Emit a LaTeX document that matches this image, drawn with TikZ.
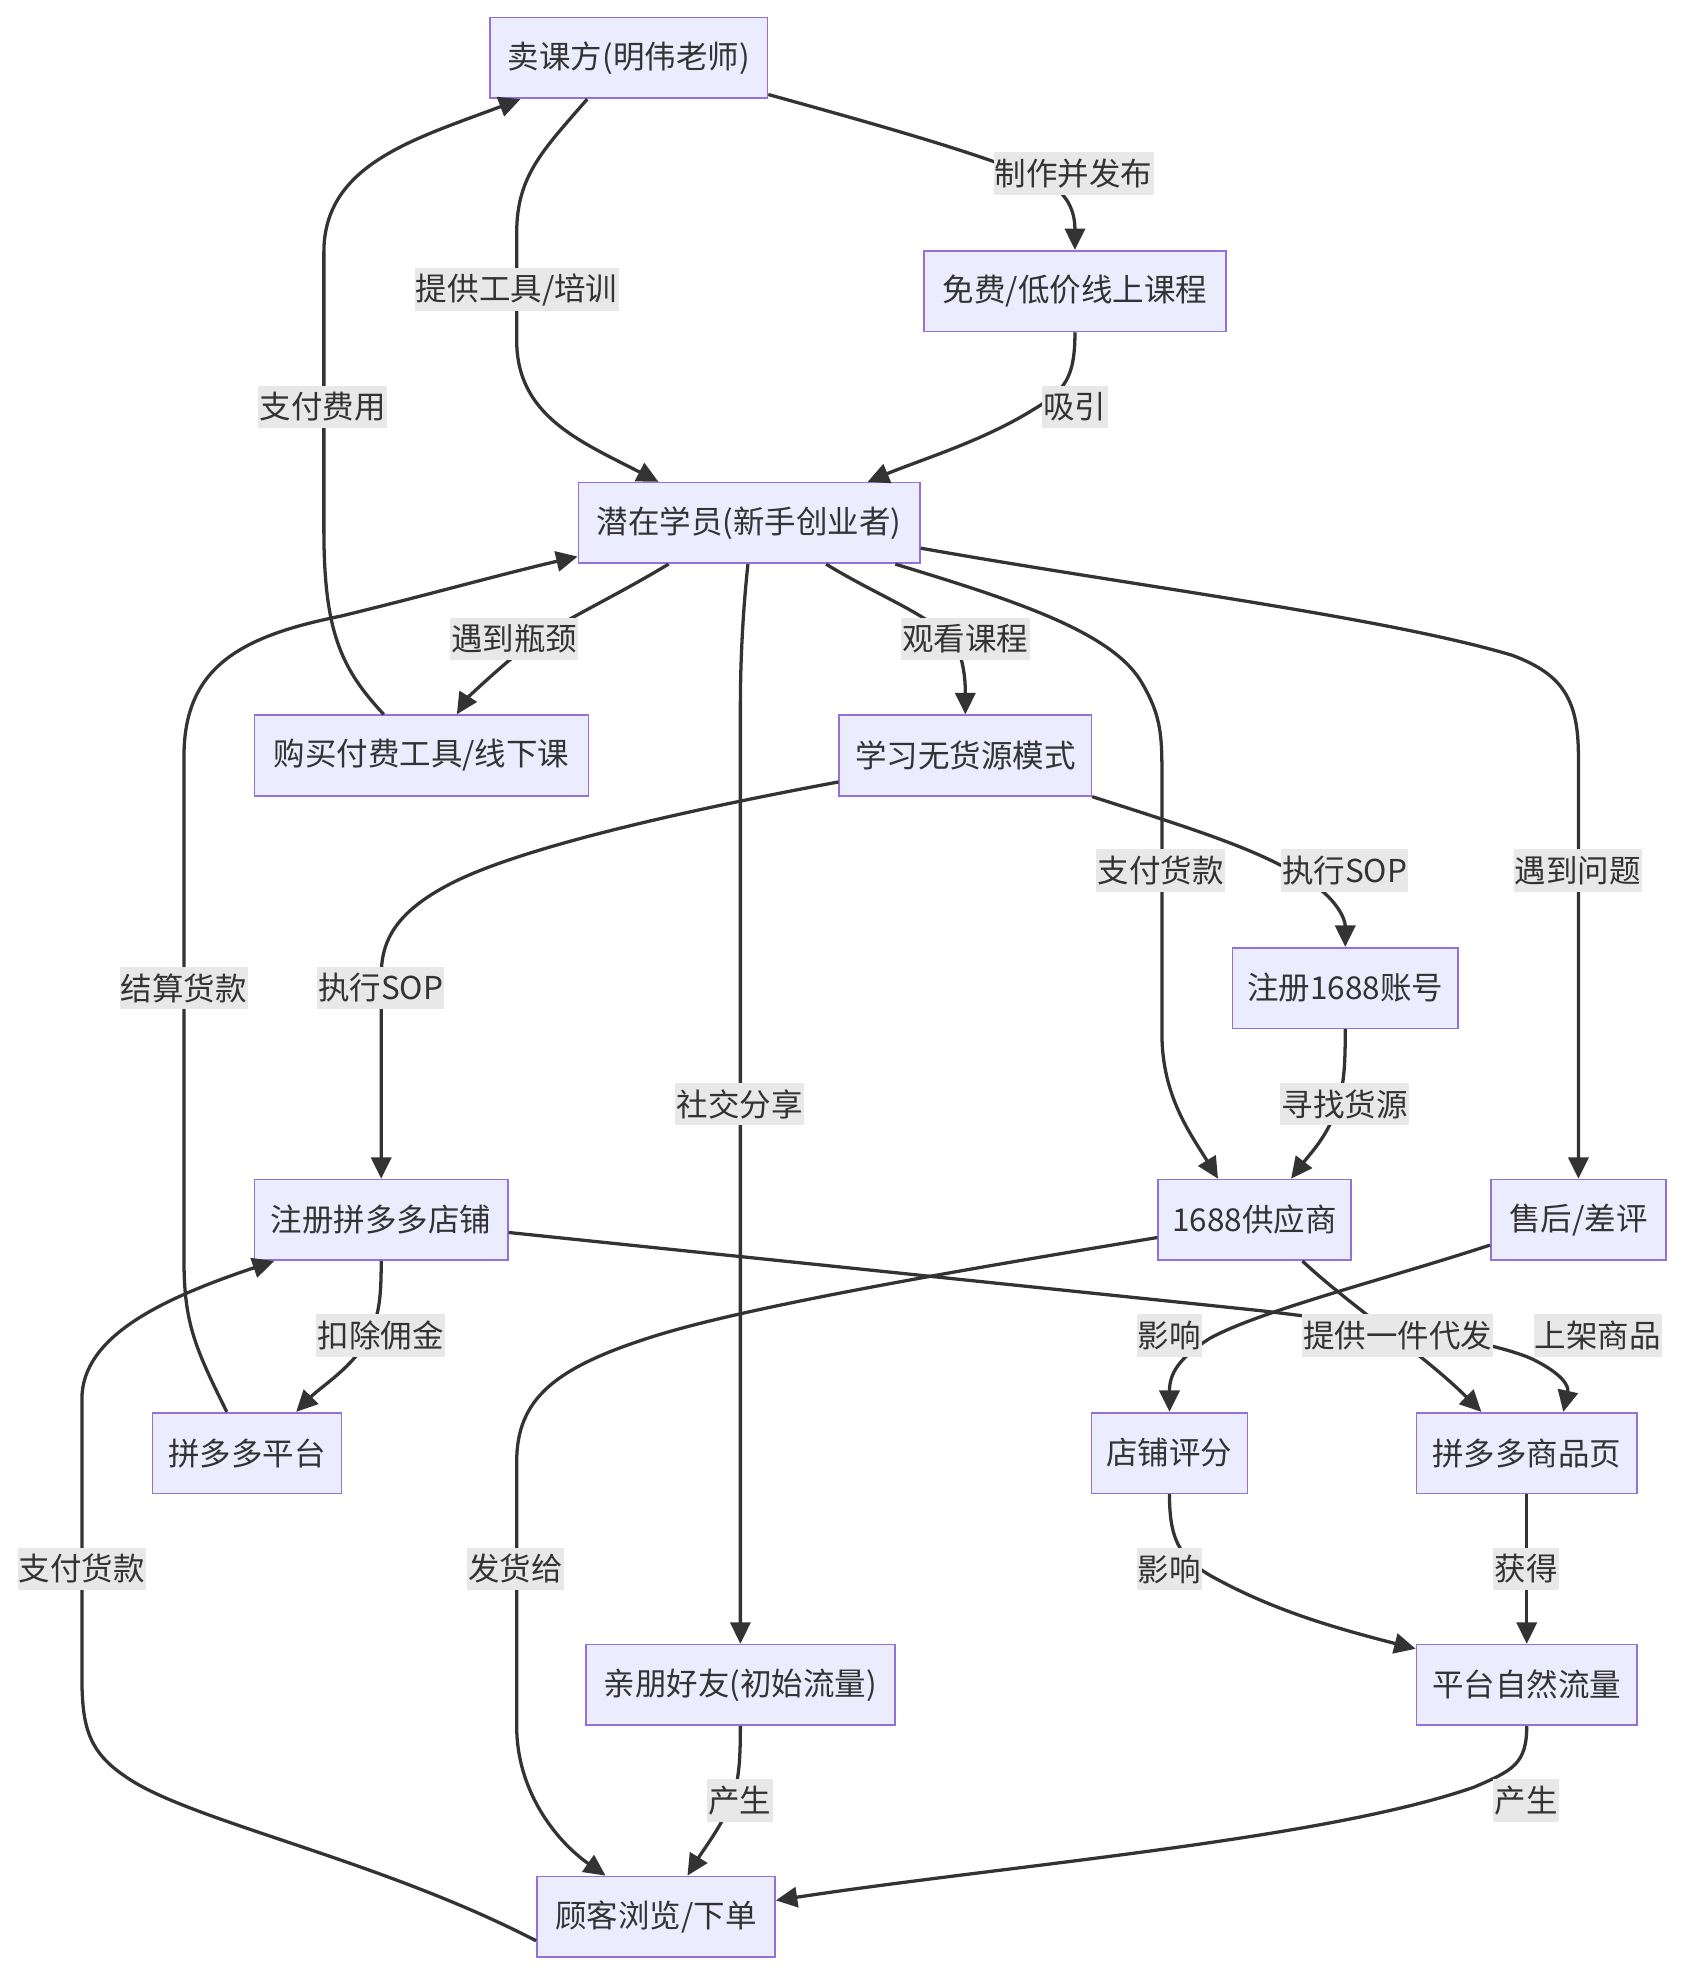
\documentclass[tikz,border=0pt]{standalone}
\usepackage{fontspec}
\setmainfont{Noto Sans CJK SC}
\usetikzlibrary{arrows.meta}
\definecolor{nodefill}{HTML}{ECECFF}
\definecolor{nodeborder}{HTML}{9370DB}
\definecolor{edgecol}{HTML}{333333}
\definecolor{lblbg}{HTML}{E8E8E8}
\tikzset{
  box/.style={draw=nodeborder, fill=nodefill, line width=1.3pt, minimum height=64pt, inner sep=0pt, text=edgecol, font=\fontsize{25}{30}\selectfont},
  lbl/.style={fill=lblbg, inner xsep=1pt, inner ysep=0pt, minimum height=34pt, text=edgecol, font=\fontsize{25}{30}\selectfont},
  edge/.style={draw=edgecol, line width=2.6pt, -{Triangle[length=17pt,width=16pt]}},
}
\begin{document}
\begin{tikzpicture}[x=1pt,y=-1pt]
\fill[white] (0,0) rectangle (1336.3,1568);
\useasboundingbox (0,0) rectangle (1336.3,1568);
% nodes
\node[box, minimum width=220pt] (seller)   at (499,46)      {卖课方(明伟老师)};
\node[box, minimum width=240pt] (course)   at (853,231)     {免费/低价线上课程};
\node[box, minimum width=271pt] (student)  at (594.5,415)   {潜在学员(新手创业者)};
\node[box, minimum width=265pt] (buy)      at (334.5,599.5) {购买付费工具/线下课};
\node[box, minimum width=200pt] (learn)    at (766,599.5)   {学习无货源模式};
\node[box, minimum width=179pt] (reg1688)  at (1067.5,784)  {注册1688账号};
\node[box, minimum width=201pt] (regPdd)   at (302.5,968)   {注册拼多多店铺};
\node[box, minimum width=153pt] (supplier) at (995.5,968)   {1688供应商};
\node[box, minimum width=139pt] (aftersale) at (1252.5,968) {售后/差评};
\node[box, minimum width=150pt] (pddPlat)  at (196,1153)    {拼多多平台};
\node[box, minimum width=124pt] (rating)   at (928,1153)    {店铺评分};
\node[box, minimum width=175pt] (product)  at (1211.5,1153) {拼多多商品页};
\node[box, minimum width=245pt] (friends)  at (587.5,1337)  {亲朋好友(初始流量)};
\node[box, minimum width=175pt] (traffic)  at (1211.5,1337) {平台自然流量};
\node[box, minimum width=189pt] (customer) at (520.5,1521)  {顾客浏览/下单};
% edges
\draw[edge] ([yshift=-29pt]seller.east) .. controls (700,100) and (800,128) .. (836,148) .. controls (850,158) and (853,172) .. (course.north);
\draw[edge] ([xshift=-33pt]seller.south) .. controls (430,120) and (410,140) .. (410,185) -- (410,270) .. controls (410,330) and (460,350) .. ([xshift=-72pt]student.north);
\draw[edge] ([xshift=-30pt]buy.north) .. controls (270,530) and (257,500) .. (257,420) -- (257,200) .. controls (257,130) and (330,110) .. ([xshift=-86pt]seller.south);
\draw[edge] (course.south) .. controls (853,300) and (845,310) .. (820,325) .. controls (780,350) and (730,365) .. ([xshift=94pt]student.north);
\draw[edge] ([xshift=-64pt]student.south) .. controls (480,478) and (440,495) .. (415,515) .. controls (390,535) and (370,555) .. ([xshift=28pt]buy.north);
\draw[edge] ([xshift=61pt]student.south) .. controls (700,475) and (745,490) .. (760,515) .. controls (766,530) and (766,545) .. (learn.north);
\draw[edge] ([xshift=-1pt]student.south) .. controls (590,480) and (587.5,520) .. (587.5,560) -- (friends.north);
\draw[edge] ([xshift=116pt]student.south) .. controls (800,475) and (880,500) .. (905,540) .. controls (920,565) and (922,580) .. (922,610) -- (922,820) .. controls (922,870) and (945,900) .. ([xshift=-29pt]supplier.north);
\draw[edge] ([yshift=-20pt]student.east) .. controls (900,465) and (1100,490) .. (1200,520) .. controls (1240,535) and (1252.5,555) .. (1252.5,600) -- (aftersale.north);
\draw[edge] (learn.south east) .. controls (960,662) and (1000,675) .. (1040,700) .. controls (1062,715) and (1067.5,730) .. (reg1688.north);
\draw[edge] ([yshift=-21pt]learn.west) .. controls (560,640) and (420,670) .. (360,700) .. controls (310,725) and (302.5,750) .. (302.5,775) -- (regPdd.north);
\draw[edge] (reg1688.south) .. controls (1067.5,850) and (1066,860) .. (1062,875) .. controls (1055,900) and (1040,915) .. ([xshift=29pt]supplier.north);
\draw[edge] ([xshift=-16pt]pddPlat.north) .. controls (155,1070) and (146,1050) .. (146,1000) -- (146,600) .. controls (146,530) and (190,505) .. (270,489) .. controls (340,472) and (400,455) .. ([yshift=6pt]student.south west);
\draw[edge] (regPdd.south) .. controls (302.5,1035) and (300,1045) .. (292,1062) .. controls (280,1085) and (255,1100) .. ([xshift=39pt]pddPlat.north);
\draw[edge] ([yshift=-10pt]regPdd.east) -- (1000,1040) .. controls (1100,1052) and (1180,1063) .. (1215,1078) .. controls (1240,1090) and (1245,1100) .. ([xshift=29pt]product.north);
\draw[edge] ([yshift=-14pt]supplier.west) .. controls (780,1005) and (600,1035) .. (520,1060) .. controls (440,1085) and (410,1110) .. (410,1160) -- (410,1370) .. controls (410,1420) and (440,1460) .. ([xshift=-40pt]customer.north);
\draw[edge] ([xshift=38pt]supplier.south) .. controls (1070,1035) and (1130,1075) .. ([xshift=-36pt]product.north);
\draw[edge] ([yshift=-20pt]aftersale.west) .. controls (1100,1015) and (1000,1040) .. (960,1062) .. controls (935,1078) and (928,1090) .. (rating.north);
\draw[edge] (rating.south) .. controls (928,1220) and (935,1235) .. (960,1250) .. controls (1010,1278) and (1060,1292) .. ([yshift=-4pt]traffic.north west);
\draw[edge] (product.south) -- (traffic.north);
\draw[edge] (friends.south) .. controls (587.5,1400) and (586,1415) .. (580,1430) .. controls (572,1450) and (560,1465) .. ([xshift=25pt]customer.north);
\draw[edge] (traffic.south) .. controls (1211.5,1400) and (1200,1405) .. (1170,1418) .. controls (1050,1460) and (800,1480) .. ([yshift=13pt]customer.east);
\draw[edge] ([yshift=-19pt]customer.west) .. controls (300,1475) and (150,1445) .. (100,1410) .. controls (70,1390) and (65,1370) .. (65,1330) -- (65,1110) .. controls (65,1060) and (130,1030) .. ([xshift=-85pt]regPdd.south);
% labels
\node[lbl] (l1)  at (852,138)   {制作并发布};
\node[lbl] (l2)  at (410,230)   {提供工具/培训};
\node[lbl] (l3)  at (256,323)   {支付费用};
\node[lbl] (l4)  at (853,323)   {吸引};
\node[lbl] (l5)  at (408,507)   {遇到瓶颈};
\node[lbl] (l6)  at (766,507)   {观看课程};
\node[lbl] (l7)  at (587,876)   {社交分享};
\node[lbl] (l8)  at (921,691)   {支付货款};
\node[lbl] (l9)  at (1252,691)  {遇到问题};
\node[lbl] (l10) at (1067,691)  {执行SOP};
\node[lbl] (l11) at (302,784)   {执行SOP};
\node[lbl] (l12) at (1067,876)  {寻找货源};
\node[lbl] (l13) at (146,784)   {结算货款};
\node[lbl] (l14) at (302,1060)  {扣除佣金};
\node[lbl] (l15) at (1268,1060) {上架商品};
\node[lbl] (l16) at (409,1245)  {发货给};
\node[lbl] (l17) at (1109,1060) {提供一件代发};
\node[lbl] (l18) at (928,1060)  {影响};
\node[lbl] (l19) at (928,1245)  {影响};
\node[lbl] (l20) at (1211,1245) {获得};
\node[lbl] (l21) at (587,1429)  {产生};
\node[lbl] (l22) at (1211,1429) {产生};
\node[lbl] (l23) at (65,1245)   {支付货款};
\end{tikzpicture}
\end{document}
